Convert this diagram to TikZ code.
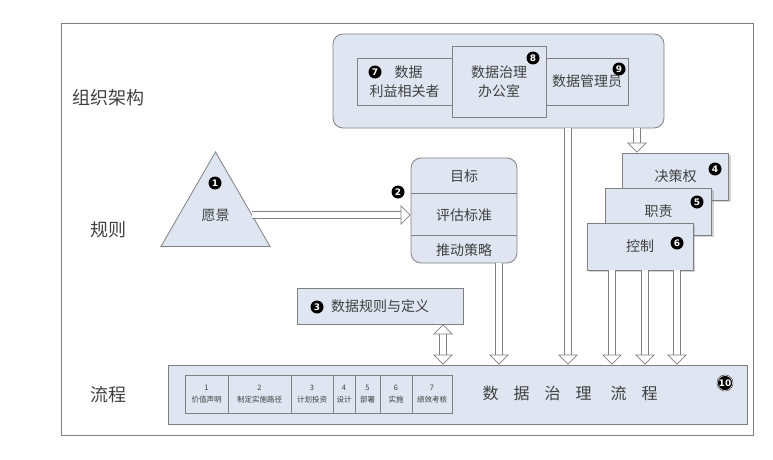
\documentclass[tikz,border=0pt]{standalone}
\usepackage{fontspec}
\setmainfont{Noto Sans CJK SC}
\newfontfamily\numfont{DejaVu Sans}
\usetikzlibrary{arrows.meta,shapes.geometric,shadows}
\definecolor{boxfill}{HTML}{DFE6F1}
\definecolor{boxline}{HTML}{808080}
\definecolor{textgray}{HTML}{404040}
\newcommand{\gap}{\hspace{15pt}}
\begin{document}
\begin{tikzpicture}[x=1pt, y=-1pt,
    every node/.style={text=textgray, font=\fontsize{14}{19}\selectfont},
    box/.style={draw=boxline, fill=boxfill, line width=0.8pt, inner sep=0pt},
    lbl/.style={font=\fontsize{18}{20}\selectfont},
    badge/.style={circle, fill=black, text=white, inner sep=0pt, minimum size=13pt,
        font=\numfont\bfseries\fontsize{9}{9}\selectfont},
    stepbox/.style={box, minimum height=38pt, align=center, font=\fontsize{7.5}{12}\selectfont},
    rolebox/.style={box, minimum width=106pt, minimum height=47pt,
        drop shadow={shadow xshift=2pt, shadow yshift=-2pt, opacity=0.35}},
    blockarrow/.style={draw=boxline, double=white, double distance=6pt, line width=0.7pt,
        -{Triangle[open, length=10pt, width=20pt]}}]
    \useasboundingbox (0,0) rectangle (773,460);
    \draw[boxline] (61,23) rectangle (753,435);

    % Row labels
    \node[lbl] (orglbl) at (108,98) {组织架构};
    \node[lbl] (rulelbl) at (108,230) {规则};
    \node[lbl] (proclbl) at (108,395) {流程};

    % Organisation part
    \node[box, rounded corners=10pt, minimum width=331pt, minimum height=94pt] (orgbox) at (498.5,81) {};
    \node[box, minimum width=95pt, minimum height=47pt, align=center] (holders) at (404.5,81.5) {\hspace{8pt}数据\\利益相关者};
    \node[box, minimum width=82pt, minimum height=47pt] (stewards) at (587,81.5) {数据管理员};
    \node[box, minimum width=94pt, minimum height=71pt, align=center] (office) at (499,81.5) {数据治理\\办公室};
    \node[badge] (b7) at (375,72) {7};
    \node[badge] (b8) at (533,58) {8};
    \node[badge] (b9) at (619,69) {9};

    % Rules part
    \node[box, regular polygon, regular polygon sides=3, minimum size=126pt] (vision) at (215.5,215) {愿景};
    \node[badge] (b1) at (215,183) {1};
    \node[box, rounded corners=10pt, minimum width=106pt, minimum height=105pt] (goals) at (464,210.5) {};
    \draw[boxline, line width=0.8pt] (goals.west |- 0,193) -- (goals.east |- 0,193);
    \draw[boxline, line width=0.8pt] (goals.west |- 0,235) -- (goals.east |- 0,235);
    \node (aim) at (464,176) {目标};
    \node (measure) at (464,215) {评估标准};
    \node (drive) at (464,250) {推动策略};
    \node[badge] (b2) at (398,192) {2};
    \node[box, minimum width=166pt, minimum height=36pt] (rules) at (380,306) {数据规则与定义};
    \node[badge] (b3) at (317,307) {3};

    \node[rolebox] (decide) at (675.5,176.5) {决策权};
    \node[rolebox] (duty) at (658.5,211.5) {职责};
    \node[rolebox] (control) at (640,246.5) {控制};
    \node[badge] (b4) at (715,169) {4};
    \node[badge] (b5) at (697,202) {5};
    \node[badge] (b6) at (677,243) {6};

    % Process part
    \node[box, minimum width=579pt, minimum height=59pt] (process) at (457.5,394.5) {};
    \node[stepbox, minimum width=43pt] (s1) at (206.5,394) {1\\价值声明};
    \node[stepbox, minimum width=63pt] (s2) at (259.5,394) {2\\制定实施路径};
    \node[stepbox, minimum width=42pt] (s3) at (312,394) {3\\计划投资};
    \node[stepbox, minimum width=22pt] (s4) at (344,394) {4\\设计};
    \node[stepbox, minimum width=25pt] (s5) at (367.5,394) {5\\部署};
    \node[stepbox, minimum width=32pt] (s6) at (396,394) {6\\实施};
    \node[stepbox, minimum width=40pt] (s7) at (432,394) {7\\绩效考核};
    \node[anchor=west, font=\fontsize{16}{16}\selectfont] (flow) at (479,393)
        {数\gap 据\gap 治\gap 理\hspace{19pt}流\gap 程};
    \node[badge, draw=black, double=white, double distance=0.6pt, minimum size=15pt] (b10) at (725,383) {10};

    % Arrows
    \draw[blockarrow] (vision.east) -- (vision.east -| goals.west);
    \draw[blockarrow] (goals.south -| 499,0) -- (process.north -| 499,0);
    \draw[blockarrow] (orgbox.south -| 568,0) -- (process.north -| 568,0);
    \draw[blockarrow] (orgbox.south -| 637,0) -- (decide.north -| 637,0);
    \draw[blockarrow] (control.south -| 612,0) -- (process.north -| 612,0);
    \draw[blockarrow] (control.south -| 645,0) -- (process.north -| 645,0);
    \draw[blockarrow] (control.south -| 677,0) -- (process.north -| 677,0);
    \draw[blockarrow, {Triangle[open, length=10pt, width=20pt]}-{Triangle[open, length=10pt, width=20pt]}]
        (rules.south -| 443,0) -- (process.north -| 443,0);
\end{tikzpicture}
\end{document}
